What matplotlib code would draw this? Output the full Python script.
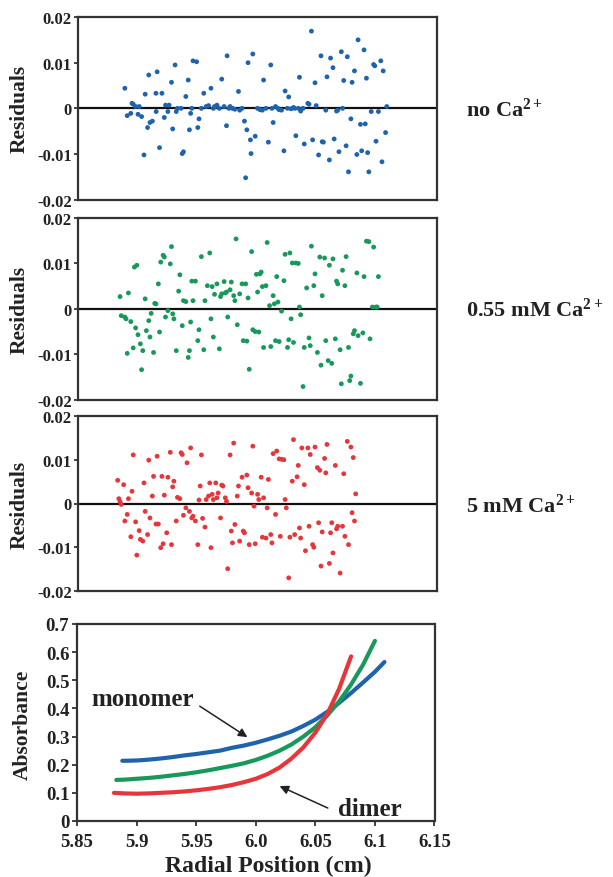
import matplotlib
matplotlib.use("Agg")
import matplotlib.pyplot as plt

plt.rcParams['font.family'] = ['Liberation Serif', 'DejaVu Serif']
plt.rcParams['font.weight'] = 'bold'
plt.rcParams['mathtext.fontset'] = 'custom'
plt.rcParams['mathtext.rm'] = 'Liberation Serif:bold'
plt.rcParams['mathtext.bf'] = 'Liberation Serif:bold'
plt.rcParams['mathtext.it'] = 'Liberation Serif:bold:italic'

# ---------------- data ----------------
blue_res_x = [5.889, 5.891, 5.894, 5.895, 5.896, 5.898, 5.900, 5.901, 5.903, 5.905,
              5.906, 5.908, 5.909, 5.910, 5.912, 5.915, 5.9152, 5.916, 5.918, 5.920,
              5.922, 5.923, 5.925, 5.926, 5.928, 5.929, 5.931, 5.932, 5.933, 5.936,
              5.937, 5.938, 5.940, 5.942, 5.943, 5.944, 5.945, 5.946, 5.949, 5.950,
              5.951, 5.953, 5.955, 5.957, 5.959, 5.961, 5.963, 5.964, 5.966, 5.968,
              5.970, 5.972, 5.974, 5.9745, 5.976, 5.977, 5.979, 5.981, 5.984, 5.985,
              5.987, 5.989, 5.990, 5.991, 5.992, 5.994, 5.9945, 5.996, 5.998, 6.000,
              6.002, 6.004, 6.005, 6.007, 6.009, 6.011, 6.012, 6.013, 6.015, 6.017,
              6.018, 6.020, 6.022, 6.023, 6.025, 6.026, 6.028, 6.030, 6.031, 6.032,
              6.034, 6.035, 6.036, 6.038, 6.039, 6.042, 6.043, 6.045, 6.046, 6.048,
              6.049, 6.051, 6.053, 6.054, 6.055, 6.058, 6.057, 6.060, 6.061, 6.063,
              6.064, 6.066, 6.067, 6.068, 6.070, 6.071, 6.072, 6.074, 6.075, 6.076,
              6.078, 6.079, 6.081, 6.083, 6.084, 6.086, 6.087, 6.089, 6.090, 6.091,
              6.092, 6.093, 6.095, 6.097, 6.098, 6.099, 6.101, 6.103, 6.104, 6.105,
              6.107, 6.108]
blue_res_y = [0.0044, -0.0016, -0.0011, 0.0011, 0.0009, 0.0004, -0.0013, 0.0004, -0.0018, -0.0102,
              0.0031, -0.0042, 0.0073, -0.0031, -0.0028, 0.0033, -0.0007, 0.0080, -0.0086, 0.0033,
              -0.0020, 0.0007, -0.0007, 0.0007, 0.0057, -0.0045, 0.0095, -0.0007, 0.0000, 0.0000,
              -0.0099, -0.0095, 0.0026, 0.0062, -0.0047, -0.0011, 0.0000, 0.0104, 0.0102, -0.0042,
              -0.0023, 0.0000, 0.0033, 0.0004, 0.0006, 0.0044, 0.0000, 0.0004, 0.0007, 0.0000,
              0.0064, 0.0004, -0.0038, 0.0115, 0.0000, 0.0004, 0.0000, -0.0002, 0.0037, -0.0004,
              0.0000, -0.0028, -0.0152, -0.0047, 0.0100, -0.0069, -0.0099, 0.0119, -0.0061, 0.0000,
              -0.0003, -0.0004, 0.0062, 0.0000, -0.0074, 0.0095, 0.0000, -0.0031, 0.0004, 0.0000,
              -0.0003, -0.0004, -0.0093, 0.0038, 0.0000, 0.0025, -0.0001, 0.0002, 0.0000, -0.0060,
              0.0000, 0.0068, -0.0006, 0.0000, -0.0078, 0.0011, 0.0009, 0.0169, -0.0069, 0.0056,
              0.0006, -0.0102, 0.0115, -0.0073, -0.0074, 0.0069, -0.0004, -0.0113, 0.0110, 0.0089,
              -0.0067, -0.0006, -0.0004, -0.0095, 0.0124, 0.0000, 0.0061, -0.0082, 0.0113, -0.0139,
              -0.0023, 0.0057, 0.0082, -0.0101, 0.0150, -0.0035, -0.0093, 0.0128, -0.0034, 0.0066,
              -0.0097, -0.0139, -0.0007, 0.0096, 0.0093, -0.0072, -0.0007, 0.0104, -0.0117, 0.0082,
              -0.0053, 0.0004]

green_res_x = [5.885, 5.886, 5.889, 5.890, 5.891, 5.892, 5.894, 5.896, 5.897, 5.898,
               5.899, 5.900, 5.902, 5.903, 5.904, 5.906, 5.907, 5.909, 5.910, 5.911,
               5.913, 5.914, 5.915, 5.917, 5.918, 5.919, 5.921, 5.922, 5.923, 5.925,
               5.927, 5.928, 5.929, 5.930, 5.932, 5.934, 5.935, 5.937, 5.938, 5.940,
               5.942, 5.943, 5.944, 5.945, 5.946, 5.948, 5.950, 5.951, 5.953, 5.955,
               5.956, 5.958, 5.960, 5.961, 5.962, 5.963, 5.964, 5.966, 5.968, 5.969,
               5.970, 5.972, 5.973, 5.974, 5.975, 5.977, 5.978, 5.980, 5.981, 5.982,
               5.983, 5.985, 5.987, 5.988, 5.990, 5.991, 5.992, 5.993, 5.995, 5.996,
               5.998, 5.999, 6.000, 6.001, 6.002, 6.003, 6.004, 6.005, 6.007, 6.008,
               6.010, 6.011, 6.013, 6.014, 6.015, 6.016, 6.017, 6.018, 6.020, 6.022,
               6.023, 6.025, 6.026, 6.027, 6.028, 6.029, 6.030, 6.032, 6.034, 6.035,
               6.036, 6.038, 6.039, 6.041, 6.043, 6.044, 6.045, 6.047, 6.048, 6.050,
               6.052, 6.053, 6.054, 6.056, 6.057, 6.059, 6.060, 6.062, 6.063, 6.065,
               6.066, 6.067, 6.069, 6.070, 6.071, 6.073, 6.074, 6.076, 6.077, 6.078,
               6.080, 6.081, 6.083, 6.084, 6.086, 6.088, 6.089, 6.091, 6.093, 6.094,
               6.096, 6.097, 6.099, 6.100, 6.101]
green_res_y = [0.0027, -0.0015, -0.0018, -0.0022, -0.0098, 0.0035, -0.0028, -0.0086, 0.0092, -0.0042,
               0.0096, -0.0057, -0.0077, -0.0134, -0.0092, 0.0022, -0.0048, -0.0026, -0.0062, -0.0010,
               -0.0096, 0.0012, 0.0011, 0.0055, -0.0051, 0.0103, 0.0118, 0.0114, -0.0018, -0.0004,
               0.0099, 0.0137, -0.0011, -0.0022, -0.0092, 0.0039, 0.0075, -0.0037, 0.0018, 0.0016,
               -0.0107, -0.0092, -0.0029, 0.0061, 0.0018, 0.0061, -0.0070, -0.0046, 0.0115, -0.0090,
               0.0018, 0.0051, 0.0123, -0.0022, 0.0049, -0.0062, 0.0032, 0.0055, -0.0088, 0.0027,
               0.0033, 0.0060, 0.0035, 0.0037, -0.0018, 0.0042, 0.0059, 0.0029, 0.0018, 0.0154,
               -0.0035, 0.0033, 0.0055, -0.0070, 0.0055, -0.0071, 0.0024, -0.0133, 0.0126, -0.0046,
               -0.0050, 0.0076, 0.0037, -0.0051, 0.0077, 0.0081, 0.0049, -0.0085, 0.0051, 0.0146,
               0.0007, -0.0083, 0.0029, 0.0011, -0.0070, 0.0071, 0.0015, -0.0072, -0.0005, 0.0062,
               0.0120, -0.0085, -0.0068, 0.0123, -0.0022, 0.0101, -0.0074, 0.0101, 0.0100, 0.0004,
               -0.0013, -0.0171, -0.0085, 0.0046, -0.0064, -0.0081, 0.0138, 0.0051, 0.0077, -0.0096,
               0.0114, -0.0124, 0.0029, 0.0112, -0.0070, -0.0114, 0.0096, -0.0120, 0.0110, -0.0066,
               0.0061, 0.0055, -0.0090, -0.0165, 0.0085, 0.0051, 0.0115, -0.0085, -0.0158, -0.0148,
               -0.0055, -0.0048, 0.0079, -0.0059, -0.0164, -0.0053, 0.0071, 0.0149, 0.0148, -0.0066,
               0.0004, 0.0136, 0.0004, 0.0004, 0.0071]

red_res_x = [5.883, 5.884, 5.885, 5.886, 5.888, 5.889, 5.891, 5.892, 5.894, 5.895,
             5.896, 5.898, 5.899, 5.901, 5.902, 5.904, 5.905, 5.906, 5.908, 5.909,
             5.910, 5.912, 5.913, 5.915, 5.916, 5.917, 5.919, 5.920, 5.921, 5.922,
             5.924, 5.925, 5.927, 5.928, 5.929, 5.930, 5.932, 5.933, 5.935, 5.936,
             5.937, 5.938, 5.940, 5.941, 5.943, 5.944, 5.945, 5.946, 5.948, 5.950,
             5.951, 5.952, 5.953, 5.954, 5.956, 5.957, 5.959, 5.960, 5.961, 5.962,
             5.963, 5.965, 5.966, 5.967, 5.969, 5.970, 5.971, 5.973, 5.974, 5.975,
             5.977, 5.978, 5.979, 5.980, 5.981, 5.983, 5.984, 5.985, 5.987, 5.988,
             5.989, 5.991, 5.992, 5.993, 5.995, 5.996, 5.997, 5.998, 6.000, 6.001,
             6.003, 6.004, 6.005, 6.007, 6.008, 6.009, 6.011, 6.012, 6.013, 6.015,
             6.016, 6.018, 6.019, 6.020, 6.022, 6.023, 6.024, 6.026, 6.027, 6.029,
             6.030, 6.031, 6.033, 6.034, 6.035, 6.036, 6.037, 6.039, 6.040, 6.042,
             6.043, 6.044, 6.046, 6.047, 6.048, 6.050, 6.051, 6.052, 6.053, 6.054,
             6.056, 6.057, 6.058, 6.060, 6.061, 6.062, 6.063, 6.065, 6.066, 6.067,
             6.069, 6.071, 6.072, 6.073, 6.075, 6.076, 6.078, 6.079, 6.080, 6.081,
             6.082]
red_res_y = [0.0053, 0.0011, 0.0004, -0.0002, 0.0043, -0.0040, -0.0025, 0.0011, -0.0076, 0.0028,
             0.0111, -0.0042, -0.0118, -0.0062, -0.0082, -0.0086, 0.0047, -0.0018, -0.0071, 0.0099,
             -0.0033, 0.0017, 0.0062, -0.0047, 0.0108, -0.0047, -0.0101, 0.0062, -0.0092, 0.0019,
             -0.0067, 0.0060, 0.0117, -0.0094, 0.0038, 0.0051, -0.0040, 0.0014, 0.0011, 0.0116,
             0.0112, -0.0027, -0.0010, 0.0093, -0.0018, 0.0127, -0.0033, -0.0029, -0.0040, -0.0094,
             0.0008, 0.0040, 0.0111, -0.0034, -0.0054, 0.0009, 0.0017, 0.0047, -0.0101, 0.0021,
             0.0009, 0.0047, 0.0013, 0.0024, -0.0033, 0.0042, 0.0040, 0.0013, 0.0005, -0.0149,
             0.0111, -0.0063, -0.0090, 0.0138, -0.0048, 0.0017, 0.0040, -0.0086, 0.0060, -0.0063,
             -0.0067, 0.0065, 0.0036, -0.0094, 0.0024, 0.0131, -0.0006, -0.0092, 0.0021, 0.0009,
             0.0060, -0.0077, 0.0013, -0.0079, -0.0010, 0.0055, -0.0071, -0.0090, 0.0114, -0.0025,
             0.0120, 0.0102, -0.0075, 0.0101, 0.0100, 0.0009, -0.0010, -0.0170, -0.0077, 0.0051,
             0.0146, -0.0071, 0.0061, 0.0087, -0.0056, -0.0079, 0.0127, 0.0043, -0.0108, 0.0127,
             -0.0052, 0.0112, -0.0094, -0.0100, 0.0129, 0.0082, -0.0044, 0.0076, -0.0143, -0.0065,
             0.0103, 0.0070, 0.0135, -0.0137, -0.0067, -0.0044, -0.0113, 0.0087, -0.0058, -0.0052,
             -0.0159, -0.0052, 0.0068, -0.0075, 0.0142, -0.0094, 0.0129, -0.0021, 0.0105, -0.0040,
             0.0022]

blue_abs_x = [5.888, 5.89, 5.90, 5.91, 5.92, 5.93, 5.94, 5.95, 5.96, 5.97, 5.98, 5.99,
              6.00, 6.01, 6.02, 6.03, 6.04, 6.05, 6.06, 6.07, 6.08, 6.09, 6.10, 6.108]
blue_abs_y = [0.214, 0.214, 0.215, 0.218, 0.222, 0.227, 0.233, 0.238, 0.244, 0.250, 0.260, 0.268,
              0.278, 0.290, 0.303, 0.318, 0.338, 0.360, 0.388, 0.420, 0.455, 0.492, 0.530, 0.565]
green_abs_x = [5.883, 5.89, 5.90, 5.91, 5.92, 5.93, 5.94, 5.95, 5.96, 5.97, 5.98, 5.99,
               6.00, 6.01, 6.02, 6.03, 6.04, 6.05, 6.06, 6.07, 6.08, 6.09, 6.10]
green_abs_y = [0.146, 0.147, 0.150, 0.153, 0.157, 0.162, 0.167, 0.173, 0.180, 0.188, 0.196, 0.205,
               0.217, 0.232, 0.250, 0.272, 0.300, 0.333, 0.375, 0.425, 0.485, 0.555, 0.640]
red_abs_x = [5.881, 5.89, 5.90, 5.91, 5.92, 5.93, 5.94, 5.95, 5.96, 5.97, 5.98, 5.99,
             6.00, 6.01, 6.02, 6.03, 6.04, 6.05, 6.06, 6.07, 6.08]
red_abs_y = [0.100, 0.098, 0.097, 0.098, 0.100, 0.102, 0.105, 0.109, 0.114, 0.120, 0.128, 0.138,
             0.150, 0.167, 0.190, 0.222, 0.262, 0.314, 0.380, 0.470, 0.585]

res_ticks = [-0.02, -0.01, 0, 0.01, 0.02]
res_tick_labels = ['-0.02', '-0.01', '0', '0.01', '0.02']
abs_xticks = [5.85, 5.9, 5.95, 6.0, 6.05, 6.1, 6.15]
abs_xtick_labels = ['5.85', '5.9', '5.95', '6.0', '6.05', '6.1', '6.15']
abs_yticks = [0, 0.1, 0.2, 0.3, 0.4, 0.5, 0.6, 0.7]
abs_ytick_labels = ['0', '0.1', '0.2', '0.3', '0.4', '0.5', '0.6', '0.7']
panel_labels = ['no Ca$^{2+}$', '0.55 mM Ca$^{2+}$', '5 mM Ca$^{2+}$']

BLUE = '#1e63ac'
GREEN = '#18985a'
RED = '#e6363c'
FRAME = '#333333'
TXT = '#222222'

W, H = 613, 878
fig = plt.figure(figsize=(W / 100, H / 100), dpi=100)
fig.patch.set_facecolor('white')

def fx(px):
    return px / W

def fy(py):
    return 1 - py / H

res_boxes = [(78.2, 437, 18, 200.7), (78.2, 437, 219, 400.7), (78.2, 437, 417, 592)]
res_data = [(blue_res_x, blue_res_y, BLUE), (green_res_x, green_res_y, GREEN),
            (red_res_x, red_res_y, RED)]
label_y = [110, 310, 506]

for (l, r, t, b), (xs, ys, col), lab, ly in zip(res_boxes, res_data, panel_labels, label_y):
    ax = fig.add_axes([fx(l), fy(b), fx(r) - fx(l), (b - t) / H])
    ax.scatter(xs, ys, s=12, color=col, edgecolors='none', zorder=3)
    ax.axhline(0, color='#111111', lw=1.6, zorder=2)
    ax.set_xlim(5.85, 6.15)
    ax.set_ylim(-0.02, 0.02)
    ax.set_xticks([])
    ax.set_yticks(res_ticks)
    ax.set_yticklabels(res_tick_labels, fontsize=12, fontweight='bold')
    ax.tick_params(axis='y', direction='out', length=3, width=1.2, pad=1.5, colors=TXT)
    for sp in ax.spines.values():
        sp.set_color(FRAME)
        sp.set_linewidth(1.6)
    fig.text(fx(19.5), fy((t + b) / 2), 'Residuals', rotation=90, fontsize=15.5,
             fontweight='bold', ha='center', va='center', color=TXT)
    fig.text(fx(466), fy(ly), lab, fontsize=16, fontweight='bold', ha='left', va='center',
             color=TXT)

# bottom absorbance panel
l, r, t, b = 77, 434.5, 625, 822
ax = fig.add_axes([fx(l), fy(b), fx(r) - fx(l), (b - t) / H])
ax.plot(blue_abs_x, blue_abs_y, color=BLUE, lw=3.0, solid_capstyle='round')
ax.plot(green_abs_x, green_abs_y, color=GREEN, lw=3.0, solid_capstyle='round')
ax.plot(red_abs_x, red_abs_y, color=RED, lw=3.0, solid_capstyle='round')
ax.set_xlim(5.85, 6.15)
ax.set_ylim(0, 0.7)
ax.set_xticks(abs_xticks)
ax.set_xticklabels(abs_xtick_labels, fontsize=13.5, fontweight='bold')
ax.set_yticks(abs_yticks)
ax.set_yticklabels(abs_ytick_labels, fontsize=13.5, fontweight='bold')
ax.tick_params(direction='out', length=3.5, width=1.2, pad=2, colors=TXT)
ax.tick_params(axis='x', pad=5)
for sp in ax.spines.values():
    sp.set_color(FRAME)
    sp.set_linewidth(1.6)

ax.annotate('', xy=(5.993, 0.298), xytext=(5.953, 0.408),
            arrowprops=dict(arrowstyle='-|>', color=TXT, lw=1.1, mutation_scale=13,
                            shrinkA=0, shrinkB=0))
ax.annotate('', xy=(6.020, 0.124), xytext=(6.0605, 0.046),
            arrowprops=dict(arrowstyle='-|>', color=TXT, lw=1.1, mutation_scale=13,
                            shrinkA=0, shrinkB=0))
ax.text(5.862, 0.435, 'monomer', fontsize=18, fontweight='bold', ha='left', va='center',
        color=TXT)
ax.text(6.069, 0.046, 'dimer', fontsize=18, fontweight='bold', ha='left', va='center',
        color=TXT)

fig.text(fx(23), fy(725), 'Absorbance', rotation=90, fontsize=15.5, fontweight='bold',
         ha='center', va='center', color=TXT)
fig.text(fx(268), fy(866), 'Radial Position (cm)', fontsize=17, fontweight='bold',
         ha='center', va='center', color=TXT)

fig.savefig('out.png', dpi=100, facecolor='white')
